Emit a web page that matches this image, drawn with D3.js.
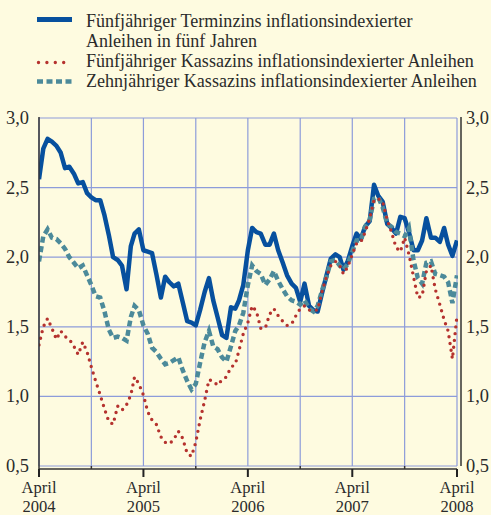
<!DOCTYPE html>
<html><head><meta charset="utf-8">
<script src="https://cdn.jsdelivr.net/npm/d3@7"></script>
<style>
html,body{margin:0;padding:0;background:#FEFBE0;}
svg{display:block;}
</style></head>
<body>
<svg id="chart" width="491" height="515"></svg>
<script>
const dates = [
"2004-04-01","2004-04-16","2004-05-01","2004-05-16","2004-06-01","2004-06-16","2004-07-01","2004-07-16","2004-08-01","2004-08-16","2004-09-01","2004-09-16","2004-10-01","2004-10-16","2004-11-01","2004-11-16","2004-12-01","2004-12-16",
"2005-01-01","2005-01-16","2005-02-01","2005-02-16","2005-03-01","2005-03-16","2005-04-01","2005-04-16","2005-05-01","2005-05-16","2005-06-01","2005-06-16","2005-07-01","2005-07-16","2005-08-01","2005-08-16","2005-09-01","2005-09-16","2005-10-01","2005-10-16","2005-11-01","2005-11-16","2005-12-01","2005-12-16",
"2006-01-01","2006-01-16","2006-02-01","2006-02-16","2006-03-01","2006-03-16","2006-04-01","2006-04-16","2006-05-01","2006-05-16","2006-06-01","2006-06-16","2006-07-01","2006-07-16","2006-08-01","2006-08-16","2006-09-01","2006-09-16","2006-10-01","2006-10-16","2006-11-01","2006-11-16","2006-12-01","2006-12-16",
"2007-01-01","2007-01-16","2007-02-01","2007-02-16","2007-03-01","2007-03-16","2007-04-01","2007-04-16","2007-05-01","2007-05-16","2007-06-01","2007-06-16","2007-07-01","2007-07-16","2007-08-01","2007-08-16","2007-09-01","2007-09-16","2007-10-01","2007-10-16","2007-11-01","2007-11-16","2007-12-01","2007-12-16",
"2008-01-01","2008-01-16","2008-02-01","2008-02-16","2008-03-01","2008-03-16","2008-04-01"];

const forward5y5y = [
2.56,2.78,2.85,2.83,2.80,2.75,2.64,2.65,2.60,2.53,
2.54,2.46,2.43,2.41,2.41,2.30,2.16,2.00,1.98,1.94,
1.77,2.08,2.17,2.20,2.05,2.04,2.03,1.88,1.71,1.86,
1.82,1.79,1.81,1.68,1.54,1.53,1.51,1.62,1.75,1.85,
1.69,1.57,1.44,1.42,1.64,1.63,1.69,1.80,2.05,2.21,
2.18,2.17,2.09,2.09,2.17,2.05,1.96,1.87,1.81,1.78,
1.68,1.81,1.65,1.62,1.61,1.74,1.87,1.99,2.02,2.00,
1.91,1.97,2.08,2.17,2.13,2.22,2.26,2.52,2.44,2.40,
2.24,2.21,2.17,2.29,2.28,2.18,2.05,2.05,2.12,2.28,
2.14,2.14,2.11,2.21,2.09,2.01,2.12];

const spot5y = [
1.37,1.50,1.56,1.49,1.41,1.47,1.43,1.41,1.36,1.30,
1.39,1.32,1.21,1.11,1.01,0.91,0.82,0.80,0.93,0.90,
0.94,1.01,1.14,1.09,1.01,0.89,0.83,0.80,0.71,0.67,
0.66,0.69,0.75,0.70,0.59,0.57,0.67,0.83,0.97,1.12,
1.11,1.08,1.12,1.14,1.21,1.23,1.33,1.45,1.53,1.65,
1.61,1.49,1.49,1.59,1.63,1.58,1.54,1.51,1.52,1.58,
1.63,1.65,1.62,1.62,1.62,1.75,1.86,1.94,1.97,1.94,
1.88,1.93,2.02,2.10,2.11,2.18,2.28,2.41,2.42,2.40,
2.27,2.18,2.07,2.04,2.14,2.02,1.86,1.71,1.72,1.90,
1.94,1.77,1.66,1.55,1.47,1.27,1.58];

const spot10y = [
1.97,2.15,2.20,2.14,2.13,2.10,2.06,2.00,1.96,1.92,
1.94,1.87,1.80,1.72,1.71,1.61,1.48,1.42,1.43,1.42,
1.40,1.57,1.65,1.62,1.51,1.45,1.35,1.32,1.27,1.23,
1.24,1.26,1.28,1.19,1.11,1.05,1.09,1.24,1.39,1.47,
1.36,1.34,1.28,1.25,1.36,1.47,1.51,1.60,1.80,1.94,
1.90,1.88,1.80,1.84,1.90,1.83,1.77,1.72,1.69,1.68,
1.66,1.69,1.63,1.61,1.65,1.76,1.86,1.97,1.98,1.94,
1.91,1.95,2.04,2.12,2.12,2.22,2.27,2.42,2.43,2.36,
2.24,2.22,2.18,2.17,2.15,2.21,1.98,1.85,1.81,1.96,
1.97,1.88,1.87,1.86,1.82,1.67,1.87];

const yTicks = [0.5, 1.0, 1.5, 2.0, 2.5, 3.0];
const yearTicks = ["2004-04-01","2005-04-01","2006-04-01","2007-04-01","2008-04-01"];
const halfTicks = ["2004-10-01","2005-10-01","2006-10-01","2007-10-01"];
const legendLabels = [
  ["Fünfjähriger Terminzins inflationsindexierter", "Anleihen in fünf Jahren"],
  ["Fünfjähriger Kassazins inflationsindexierter Anleihen"],
  ["Zehnjähriger Kassazins inflationsindexierter Anleihen"]
];

const FONT = "'Liberation Serif', 'DejaVu Serif', 'Times New Roman', serif";
const parse = d3.timeParse("%Y-%m-%d");
const D = dates.map(parse);
const svg = d3.select("#chart");
svg.attr("font-family", FONT);
const L = 39, R = 457, T = 118, B = 466;
const x = d3.scaleTime().domain([parse("2004-04-01"), parse("2008-04-01")]).range([L, R]);
const y = d3.scaleLinear().domain([0.5, 3.0]).range([B, T]);
const fmt = v => d3.format(".1f")(v).replace(".", ",");

function fitSize(sample, width) {
  const t = svg.append("text").attr("font-size", 20).text(sample);
  const w = t.node().getComputedTextLength();
  t.remove();
  return 20 * width / w;
}
const legendSize = fitSize(legendLabels[1][0], 388);
const tickSize = fitSize("3,0", 23);
const monthSize = fitSize("April", 35);

const gridColor = "#8D9CDA";
const g = svg.append("g");
g.selectAll("line.h").data(yTicks).join("line")
  .attr("x1", L).attr("x2", R).attr("y1", d => y(d)).attr("y2", d => y(d))
  .attr("stroke", gridColor).attr("stroke-width", 1.2);
const allX = yearTicks.concat(halfTicks).map(parse);
g.selectAll("line.v").data(allX).join("line")
  .attr("x1", d => x(d)).attr("x2", d => x(d)).attr("y1", T).attr("y2", B)
  .attr("stroke", gridColor).attr("stroke-width", 1.2);

svg.append("clipPath").attr("id", "clip").append("rect")
  .attr("x", L).attr("y", T - 5).attr("width", R - L + 1).attr("height", B - T + 5);
const line = arr => d3.line().x((d, i) => x(D[i])).y(d => y(d))(arr);
const lines = svg.append("g").attr("clip-path", "url(#clip)");
const blue = "#07509E", red = "#B5322E", teal = "#4C8A9A";
lines.append("path").attr("d", line(forward5y5y)).attr("fill", "none")
  .attr("stroke", blue).attr("stroke-width", 4.5).attr("stroke-linejoin", "round");
lines.append("path").attr("d", line(spot10y)).attr("fill", "none")
  .attr("stroke", teal).attr("stroke-width", 4.5).attr("stroke-dasharray", "6,3.5");
lines.append("path").attr("d", line(spot5y)).attr("fill", "none")
  .attr("stroke", red).attr("stroke-width", 3.4).attr("stroke-linecap", "round")
  .attr("stroke-dasharray", "0,6.8");

svg.append("line").attr("x1", L).attr("x2", L).attr("y1", T - 1).attr("y2", B + 3)
  .attr("stroke", "#333").attr("stroke-width", 1.5);
svg.append("line").attr("x1", 461).attr("x2", 461).attr("y1", T - 1).attr("y2", B)
  .attr("stroke", "#333").attr("stroke-width", 1.5);
svg.append("line").attr("x1", L).attr("x2", R).attr("y1", B + 3).attr("y2", B + 3)
  .attr("stroke", "#333").attr("stroke-width", 1.5);
svg.selectAll("line.yt").data(yearTicks.map(parse)).join("line")
  .attr("x1", d => x(d)).attr("x2", d => x(d)).attr("y1", B + 3).attr("y2", B + 11)
  .attr("stroke", "#222").attr("stroke-width", 2);
svg.selectAll("line.ht").data(halfTicks.map(parse)).join("line")
  .attr("x1", d => x(d)).attr("x2", d => x(d)).attr("y1", B).attr("y2", B + 3)
  .attr("stroke", "#333").attr("stroke-width", 1.5);

const txtColor = "#2b2b2b";
svg.selectAll("text.yl").data(yTicks).join("text")
  .attr("x", 29).attr("y", d => y(d) + 6).attr("text-anchor", "end")
  .attr("font-size", tickSize).attr("fill", txtColor).text(fmt);
svg.selectAll("text.yr").data(yTicks).join("text")
  .attr("x", 466).attr("y", d => y(d) + 6).attr("text-anchor", "start")
  .attr("font-size", tickSize).attr("fill", txtColor).text(fmt);
const yearTickDates = yearTicks.map(parse);
svg.selectAll("text.xm").data(yearTickDates).join("text")
  .attr("x", d => x(d)).attr("y", 492.5).attr("text-anchor", "middle")
  .attr("font-size", monthSize).attr("fill", txtColor).text("April");
svg.selectAll("text.xy").data(yearTickDates).join("text")
  .attr("x", d => x(d)).attr("y", 512).attr("text-anchor", "middle")
  .attr("font-size", monthSize).attr("fill", txtColor).text(d => d.getFullYear());

const lg = svg.append("g");
lg.append("line").attr("x1", 37).attr("x2", 72).attr("y1", 19.5).attr("y2", 19.5)
  .attr("stroke", blue).attr("stroke-width", 5);
lg.append("line").attr("x1", 38.5).attr("x2", 72).attr("y1", 62.5).attr("y2", 62.5)
  .attr("stroke", red).attr("stroke-width", 3.4).attr("stroke-linecap", "round")
  .attr("stroke-dasharray", "0,8.4");
lg.append("line").attr("x1", 37).attr("x2", 72).attr("y1", 81.5).attr("y2", 81.5)
  .attr("stroke", teal).attr("stroke-width", 4.5).attr("stroke-dasharray", "6,3.5");
const baselines = [[26.5, 47], [67], [87]];
legendLabels.forEach((ls, k) => {
  ls.forEach((t, j) => {
    lg.append("text").attr("x", 86).attr("y", baselines[k][j])
      .attr("font-size", legendSize).attr("fill", txtColor).text(t);
  });
});
</script>
</body></html>
